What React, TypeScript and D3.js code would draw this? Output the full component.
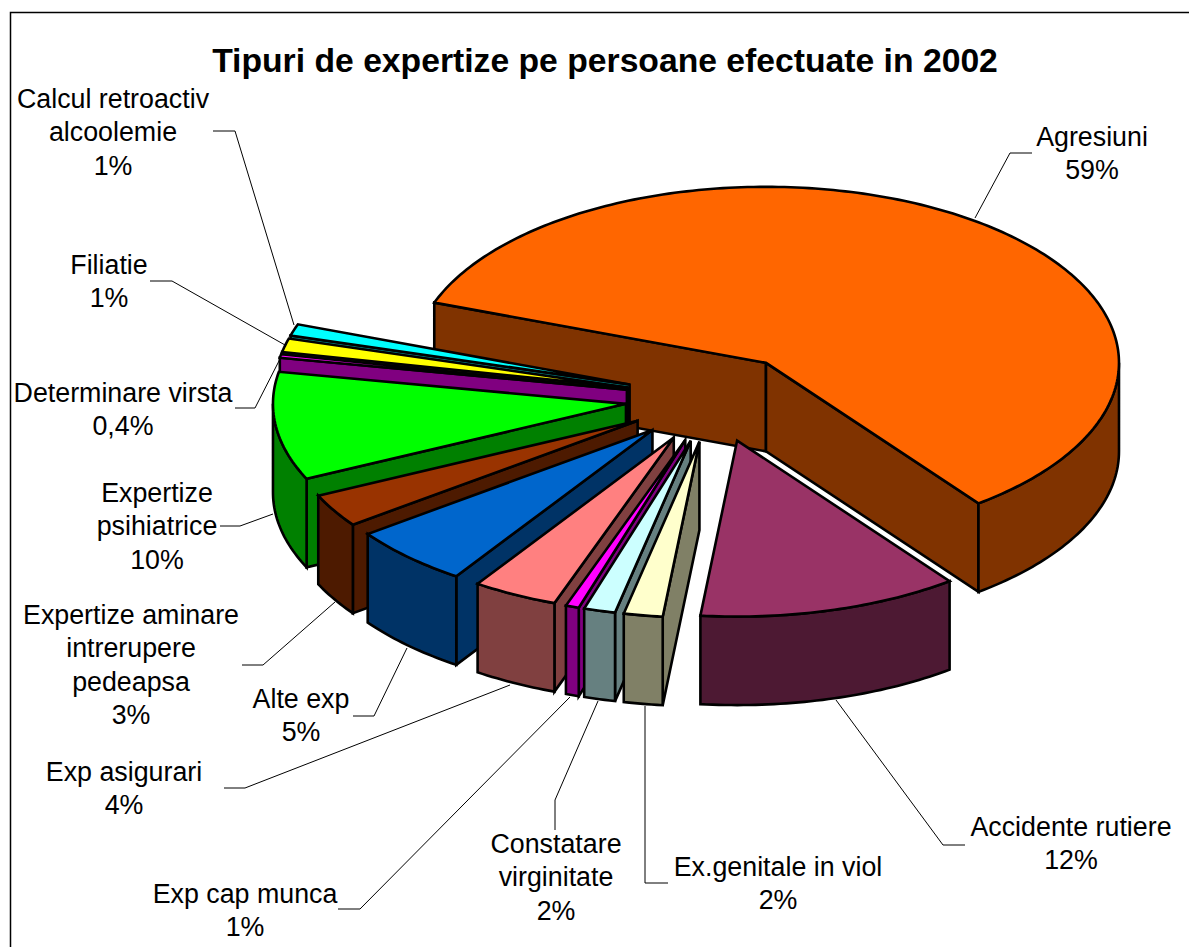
import React from "react";
import * as d3 from "d3";

const categories = [
  "Agresiuni", "Accidente rutiere", "Ex.genitale in viol", "Constatare virginitate",
  "Exp cap munca", "Exp asigurari", "Alte exp", "Expertize aminare intrerupere pedeapsa",
  "Expertize psihiatrice", "Determinare virsta", "Filiatie", "Calcul retroactiv alcoolemie",
];
const values = [59.17, 11.94, 1.78, 1.44, 0.61, 3.89, 5.56, 3.06, 9.92, 0.33, 1.25, 1.06];
const percentLabels = ["59%", "12%", "2%", "2%", "1%", "4%", "5%", "3%", "10%", "0,4%", "1%", "1%"];
const topColors = ["#FF6600", "#993366", "#FFFFCC", "#CCFFFF", "#FF00FF", "#FF8080", "#0066CC", "#993300", "#00FF00", "#FF00FF", "#FFFF00", "#00FFFF"];
const wallColors = ["#803300", "#4D1933", "#808066", "#668080", "#800080", "#804040", "#003366", "#4D1A00", "#008000", "#800080", "#808000", "#008080"];
const title = "Tipuri de expertize pe persoane efectuate in 2002";

// layout only
const labelLines = [
  ["Agresiuni"], ["Accidente rutiere"], ["Ex.genitale in viol"], ["Constatare", "virginitate"],
  ["Exp cap munca"], ["Exp asigurari"], ["Alte exp"], ["Expertize aminare", "intrerupere", "pedeapsa"],
  ["Expertize", "psihiatrice"], ["Determinare virsta"], ["Filiatie"], ["Calcul retroactiv", "alcoolemie"],
];
const labelAnchors: [number, number][] = [
  [1092, 146], [1071, 836], [778, 876], [556, 853], [245, 903], [124, 781], [301, 708],
  [131, 624], [157, 502], [123, 402], [109, 274], [113, 108],
];
const leaders: [number, number][][] = [
  [[1032, 153], [1010, 153], [975, 218]],
  [[965, 845], [943, 845], [836, 700]],
  [[668, 883], [645, 883], [645, 706]],
  [[555, 830], [555, 800], [598, 701]],
  [[338, 909], [360, 909], [570, 697]],
  [[224, 788], [245, 788], [510, 685]],
  [[353, 716], [374, 716], [407, 648]],
  [[242, 665], [263, 665], [335, 602]],
  [[220, 526], [240, 526], [273, 514]],
  [[235, 408], [255, 408], [281, 357]],
  [[150, 281], [172, 281], [285, 345]],
  [[213, 131], [235, 131], [294, 325]],
];
const drawOrder = [0, 11, 10, 9, 8, 7, 6, 5, 4, 3, 2, 1];

const CX = 713.5, CY = 398.2, RX = 353, RY = 176, DEPTH = 88.5, EXPLODE = 0.25;
const LINE = 33.4;
const FONT = "'Liberation Sans', Arial, sans-serif";

const xScale = d3.scaleLinear().domain([-1, 1]).range([CX - RX, CX + RX]);
const yScale = d3.scaleLinear().domain([-1, 1]).range([CY - RY, CY + RY]);
const rad = (deg: number) => (deg * Math.PI) / 180;
const start = rad(200);
const pie = d3.pie<number>().sort(null).startAngle(start).endAngle(start + 2 * Math.PI);
const arcs = pie(values);
const line = d3.line<[number, number]>();

function arcPts(a0: number, a1: number, ox: number, oy: number, dy: number): [number, number][] {
  const n = Math.max(2, Math.ceil(Math.abs(a1 - a0) / rad(1)));
  return d3.range(n + 1).map((i) => {
    const a = a0 + ((a1 - a0) * i) / n;
    return [xScale(ox + Math.cos(a)), yScale(oy + Math.sin(a)) + dy] as [number, number];
  });
}

function Slice({ i }: { i: number }) {
  const { startAngle: a0, endAngle: a1 } = arcs[i];
  const mid = (a0 + a1) / 2;
  const ox = EXPLODE * Math.cos(mid);
  const oy = EXPLODE * Math.sin(mid);
  const apex: [number, number] = [xScale(ox), yScale(oy)];
  const style = { stroke: "#000", strokeWidth: 2.6, strokeLinejoin: "miter" as const, strokeMiterlimit: 4 };

  const radial = (a: number) => {
    const p: [number, number] = [xScale(ox + Math.cos(a)), yScale(oy + Math.sin(a))];
    return line([apex, p, [p[0], p[1] + DEPTH], [apex[0], apex[1] + DEPTH]])! + "Z";
  };
  const walls: string[] = [];
  if (Math.sin(a0 - Math.PI / 2) > 0) walls.push(radial(a0));
  if (Math.sin(a1 + Math.PI / 2) > 0) walls.push(radial(a1));

  const outer: string[] = [];
  for (const [lo, hi] of [[0, Math.PI], [2 * Math.PI, 3 * Math.PI]]) {
    const s = Math.max(a0, lo), e = Math.min(a1, hi);
    if (e > s) {
      const top = arcPts(s, e, ox, oy, 0);
      const bottom = arcPts(e, s, ox, oy, DEPTH);
      outer.push(line([...top, ...bottom])! + "Z");
    }
  }
  const face = line([apex, ...arcPts(a0, a1, ox, oy, 0)])! + "Z";
  return (
    <g>
      {walls.map((d, k) => <path key={"w" + k} d={d} fill={wallColors[i]} {...style} />)}
      {outer.map((d, k) => <path key={"o" + k} d={d} fill={wallColors[i]} {...style} />)}
      <path d={face} fill={topColors[i]} {...style} />
    </g>
  );
}

export default function App() {
  return (
    <svg width={1189} height={947} style={{ position: "absolute", left: 0, top: 0, background: "#fff" }} fontFamily={FONT}>
      <rect x={10.5} y={12.5} width={1300} height={1000} fill="#fff" stroke="#000" strokeWidth={1.5} />
      <text x={605} y={72} textAnchor="middle" fontSize={33.7} fontWeight="bold" fill="#000">{title}</text>
      {drawOrder.map((i) => <Slice key={categories[i]} i={i} />)}
      {leaders.map((pts, i) => (
        <path key={"l" + i} d={line(pts)!} fill="none" stroke="#000" strokeWidth={1} />
      ))}
      {categories.map((c, i) => {
        const lines = [...labelLines[i], percentLabels[i]];
        return (
          <text key={c} fontSize={26.8} textAnchor="middle" fill="#000">
            {lines.map((t, k) => (
              <tspan key={k} x={labelAnchors[i][0]} y={labelAnchors[i][1] + k * LINE}>{t}</tspan>
            ))}
          </text>
        );
      })}
    </svg>
  );
}
